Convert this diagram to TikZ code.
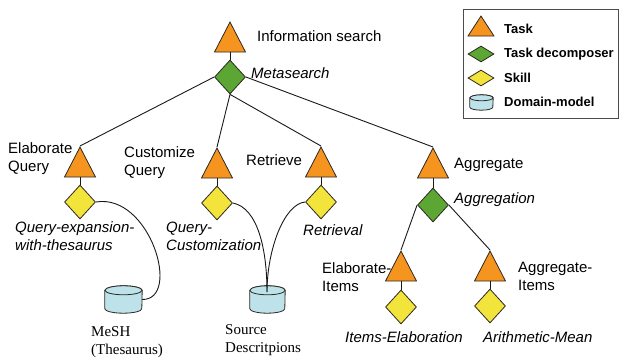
\documentclass[tikz,border=0pt]{standalone}
\usepackage{fontspec}
\setmainfont{Liberation Sans}
\newfontfamily\timesf{Liberation Serif}
\usetikzlibrary{shapes.geometric,calc}
\definecolor{taskor}{RGB}{246,148,32}
\definecolor{decgreen}{RGB}{92,166,52}
\definecolor{skillyel}{RGB}{242,228,58}
\definecolor{dmblue}{RGB}{190,226,234}
\definecolor{outl}{RGB}{45,40,35}
% #1 name, #2 cx, #3 cy, #4 rx (pt), #5 height (pt), #6 ry (pt)
\newcommand\dmcyl[6]{%
  \node[inner sep=0pt, minimum width=2*#4pt, minimum height=#5pt] (#1) at (#2,#3) {};
  \filldraw[dmsty] ($(#1.north west)+(0,#6)$) -- ($(#1.south west)+(0,-#6)$)
     arc[start angle=180, end angle=360, x radius=#4pt, y radius=#6pt]
     -- ($(#1.north east)+(0,#6)$)
     arc[start angle=0, end angle=180, x radius=#4pt, y radius=#6pt] -- cycle;
  \draw[dmsty] ($(#1.north)+(0,#6)$) ellipse[x radius=#4pt, y radius=#6pt];
}
\begin{document}
\begin{tikzpicture}[x=1pt,y=-1pt,
  task/.style={isosceles triangle, shape border rotate=90, isosceles triangle stretches,
    minimum width=31pt, minimum height=30pt, inner sep=0pt, draw=outl, fill=taskor, line width=0.8pt, anchor=north},
  decomp/.style={diamond, minimum width=31pt, minimum height=34pt, inner sep=0pt, draw=outl, fill=decgreen, line width=0.8pt},
  skill/.style={diamond, minimum width=31pt, minimum height=34pt, inner sep=0pt, draw=outl, fill=skillyel, line width=0.8pt},
  dmsty/.style={draw=outl, fill=dmblue, line width=0.8pt},
  conn/.style={draw=black!90, line width=0.9pt},
  lab/.style={anchor=west, inner sep=0pt, font=\fontsize{15}{18}\selectfont, align=left},
  ilab/.style={lab, font=\fontsize{15}{18}\selectfont\itshape},
  slab/.style={lab, font=\fontsize{15}{18}\selectfont\timesf},
  leg/.style={anchor=west, inner sep=0pt, font=\fontsize{13}{15}\selectfont\bfseries}
]
\useasboundingbox (0,0) rectangle (619,358);

% legend
\node[draw=black!70, line width=1pt, minimum width=155pt, minimum height=109pt, anchor=north west, inner sep=0pt] (legbox) at (463,9) {};
\node[task, minimum width=26pt, minimum height=20pt] (lt) at (481,15) {};
\node[leg] (ltl) at (504,29) {Task};
\node[decomp, minimum width=26pt, minimum height=16pt] (ld) at (481,54) {};
\node[leg] (ldl) at (504,54) {Task decomposer};
\node[skill, minimum width=26pt, minimum height=16pt] (ls) at (481,78) {};
\node[leg] (lsl) at (504,78) {Skill};
\dmcyl{lm}{481.5}{102.5}{11.5}{15}{3}
\node[leg] (lml) at (504,102) {Domain-model};

% tasks
\node[task] (t0) at (230,21) {};
\node[decomp] (d0) at (230,77) {};
\node[task] (t1) at (80,146) {};
\node[task] (t2) at (217,147) {};
\node[task] (t3) at (321,146) {};
\node[task] (t4) at (433,147) {};
\node[decomp] (d1) at (433,205) {};
\node[task] (t5) at (401,250) {};
\node[task] (t6) at (490,250) {};

% skills
\node[skill] (s1) at (80,202) {};
\node[skill] (s2) at (217,203) {};
\node[skill] (s3) at (321,202) {};
\node[skill] (s4) at (401,307) {};
\node[skill] (s5) at (490,306) {};

% domain models
\dmcyl{mesh}{123.5}{299.5}{18.5}{27}{4.5}
\dmcyl{src}{267.5}{299.5}{17.5}{27}{4.5}
\coordinate (srcin) at (267,292);

% connectors
\draw[conn] (t0.south) -- (d0.north);
\draw[conn] (d0.west) -- (t1.north);
\draw[conn] (d0.south) -- (t2.north);
\draw[conn] (d0.south) -- (t3.north);
\draw[conn] (d0.east) -- (t4.north);
\draw[conn] (t1.south) -- (s1.north);
\draw[conn] (t2.south) -- (s2.north);
\draw[conn] (t3.south) -- (s3.north);
\draw[conn] (t4.south) -- (d1.north);
\draw[conn] (d1.west) -- (t5.north);
\draw[conn] (d1.east) -- (t6.north);
\draw[conn] (t5.south) -- (s4.north);
\draw[conn] (t6.south) -- (s5.north);
\draw[conn] (s1.east) .. controls (150,193) and (182,300) .. (mesh.east);
\draw[conn] (s2.east) .. controls (258,208) and (267,250) .. (srcin);
\draw[conn] (s3.west) .. controls (284,204) and (267,250) .. (srcin);

% labels
\node[lab] (l0) at (257,36) {Information search};
\node[ilab] (ld0) at (251,73) {Metasearch};
\node[lab] (l1) at (8,159) {Elaborate\\Query};
\node[lab] (l2) at (124,163) {Customize\\Query};
\node[lab] (l3) at (246,160) {Retrieve};
\node[lab] (l4) at (454,165) {Aggregate};
\node[ilab] (ls1) at (15,236) {Query-expansion-\\with-thesaurus};
\node[ilab] (ls2) at (166,236) {Query-\\Customization};
\node[ilab] (ls3) at (303,230) {Retrieval};
\node[slab] (lmesh) at (91,342) {MeSH\\(Thesaurus)};
\node[slab] (lsrc) at (225,340) {Source\\Descritpions};
\node[ilab] (ld1) at (454,200) {Aggregation};
\node[lab] (l5) at (322,277) {Elaborate-\\Items};
\node[lab] (l6) at (518,276) {Aggregate-\\Items};
\node[ilab] (ls4) at (345,337) {Items-Elaboration};
\node[ilab] (ls5) at (483,337) {Arithmetic-Mean};
\end{tikzpicture}
\end{document}
